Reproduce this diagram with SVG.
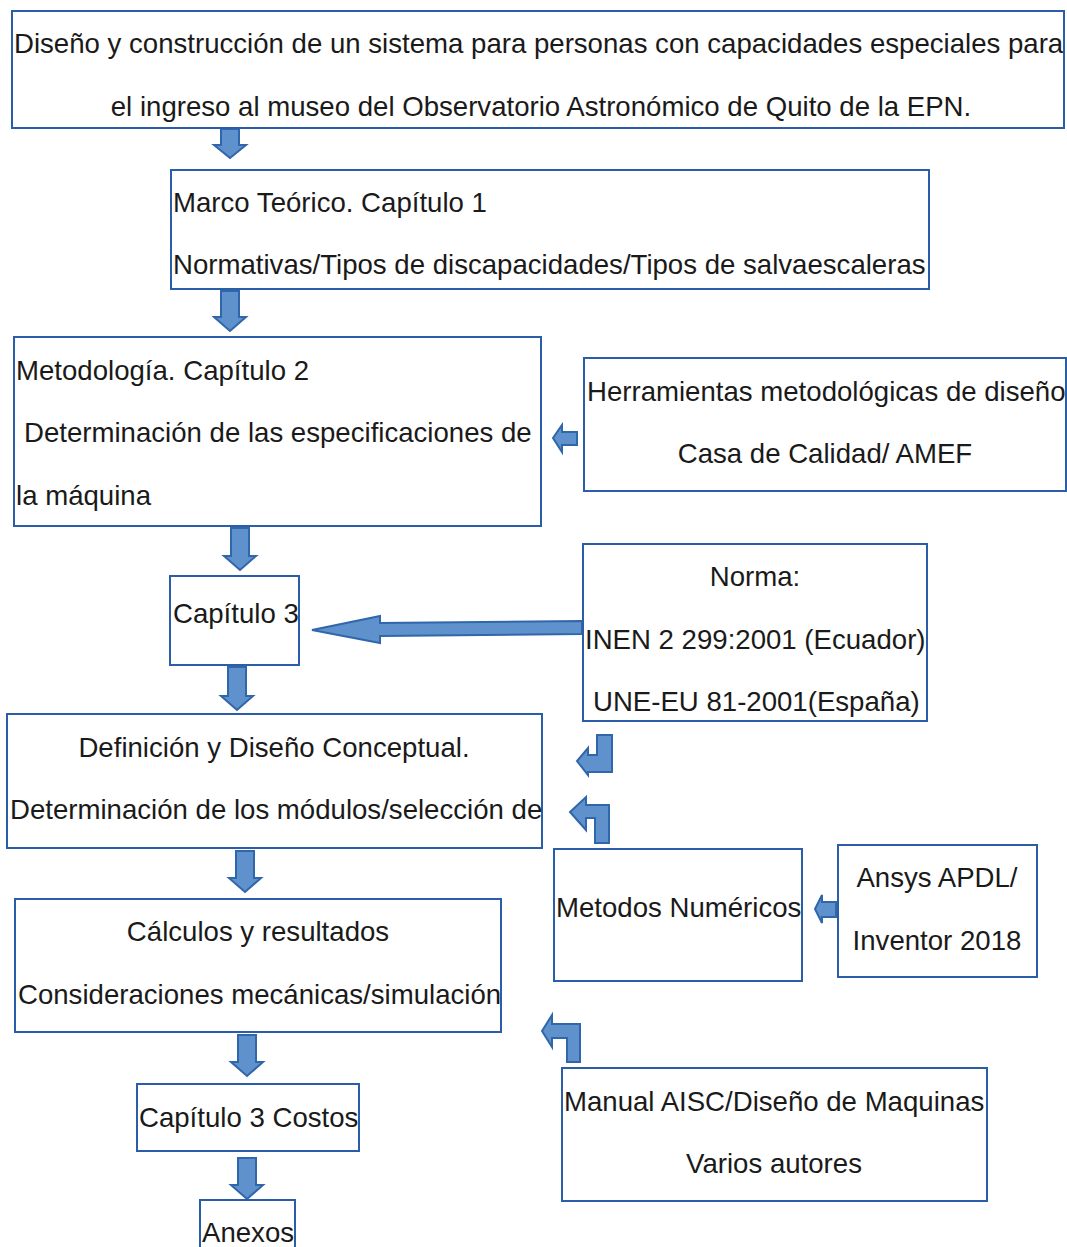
<svg xmlns="http://www.w3.org/2000/svg" width="1067" height="1247" viewBox="0 0 1067 1247">
<style>
.box{fill:#fff;stroke:#2a5ea8;stroke-width:2}
.arr{fill:#5f92cc;stroke:#3066aa;stroke-width:2;stroke-linejoin:miter}
text{font-family:"Liberation Sans",Arial,sans-serif;font-size:27.6px;fill:#1a1a1a}
.c{text-anchor:middle}
</style>
<rect width="1067" height="1247" fill="#fff"/>
<g id="connectors">
<path class="arr" d="M221,129 V145 H214 L230,158 L246,145 H239 V129 Z"/>
<path class="arr" d="M221,291 V317 H214 L230,331 L246,317 H239 V291 Z"/>
<path class="arr" d="M231,528 V556 H224 L240,570 L256,556 H249 V528 Z"/>
<path class="arr" d="M228,667 V696 H221 L237,710 L253,696 H246 V667 Z"/>
<path class="arr" d="M236,851 V878 H229 L245,892 L261,878 H254 V851 Z"/>
<path class="arr" d="M238,1035 V1062 H231 L247,1076 L263,1062 H256 V1035 Z"/>
<path class="arr" d="M238,1158 V1185 H231 L247,1199 L263,1185 H256 V1158 Z"/>
<path class="arr" d="M577,432 H562 V425 L553,438 L562,452 V445 H577 Z"/>
<path class="arr" d="M582,621 L380,623 V616 L312,630 L380,643 V636 L582,634 Z"/>
<path class="arr" d="M836,902 H822 V895 L815,909 L822,923 V917 H836 Z"/>
<path class="arr" d="M597,735 H612 V772 H588 V775 L577,761 L588,748 V755 H597 Z"/>
<path class="arr" d="M609,843 H595 V818 H586 V830 L570,812 L586,797 V805 H609 Z"/>
<path class="arr" d="M580,1062 H567 V1038 H552 V1047 L542,1031 L552,1015 V1024 H580 Z"/>
</g>
<g id="n1"><rect class="box" x="12" y="11" width="1052" height="117"/>
<text x="14" y="53">Diseño y construcción de un sistema para personas con capacidades especiales para</text>
<text x="541" y="116" class="c">el ingreso al museo del Observatorio Astronómico de Quito de la EPN.</text></g>
<g id="n2"><rect class="box" x="171" y="170" width="758" height="119"/>
<text x="173" y="212">Marco Teórico. Capítulo 1</text>
<text x="173" y="274">Normativas/Tipos de discapacidades/Tipos de salvaescaleras</text></g>
<g id="n3"><rect class="box" x="14" y="337" width="527" height="189"/>
<text x="16" y="380">Metodología. Capítulo 2</text>
<text x="24" y="442">Determinación de las especificaciones de</text>
<text x="16" y="505">la máquina</text></g>
<g id="n4"><rect class="box" x="584" y="358" width="482" height="133"/>
<text x="587" y="401">Herramientas metodológicas de diseño</text>
<text x="825" y="463" class="c">Casa de Calidad/ AMEF</text></g>
<g id="n5"><rect class="box" x="170" y="576" width="129" height="89"/>
<text x="173" y="623">Capítulo 3</text></g>
<g id="n6"><rect class="box" x="583" y="544" width="344" height="177"/>
<text x="755" y="586" class="c">Norma:</text>
<text x="585" y="649">INEN 2 299:2001 (Ecuador)</text>
<text x="593" y="711">UNE-EU 81-2001(España)</text></g>
<g id="n7"><rect class="box" x="7" y="714" width="535" height="134"/>
<text x="274" y="757" class="c">Definición y Diseño Conceptual.</text>
<text x="10" y="819">Determinación de los módulos/selección de</text></g>
<g id="n8"><rect class="box" x="554" y="849" width="248" height="132"/>
<text x="556" y="917">Metodos Numéricos</text></g>
<g id="n9"><rect class="box" x="838" y="845" width="199" height="132"/>
<text x="937" y="887" class="c">Ansys APDL/</text>
<text x="937" y="950" class="c">Inventor 2018</text></g>
<g id="n10"><rect class="box" x="15" y="899" width="486" height="133"/>
<text x="258" y="941" class="c">Cálculos y resultados</text>
<text x="18" y="1004">Consideraciones mecánicas/simulación</text></g>
<g id="n11"><rect class="box" x="137" y="1084" width="222" height="67"/>
<text x="139" y="1127">Capítulo 3 Costos</text></g>
<g id="n12"><rect class="box" x="562" y="1068" width="425" height="133"/>
<text x="564" y="1111">Manual AISC/Diseño de Maquinas</text>
<text x="774" y="1173" class="c">Varios autores</text></g>
<g id="n13"><rect class="box" x="200" y="1200" width="95" height="60"/>
<text x="202" y="1242">Anexos</text></g>
</svg>
